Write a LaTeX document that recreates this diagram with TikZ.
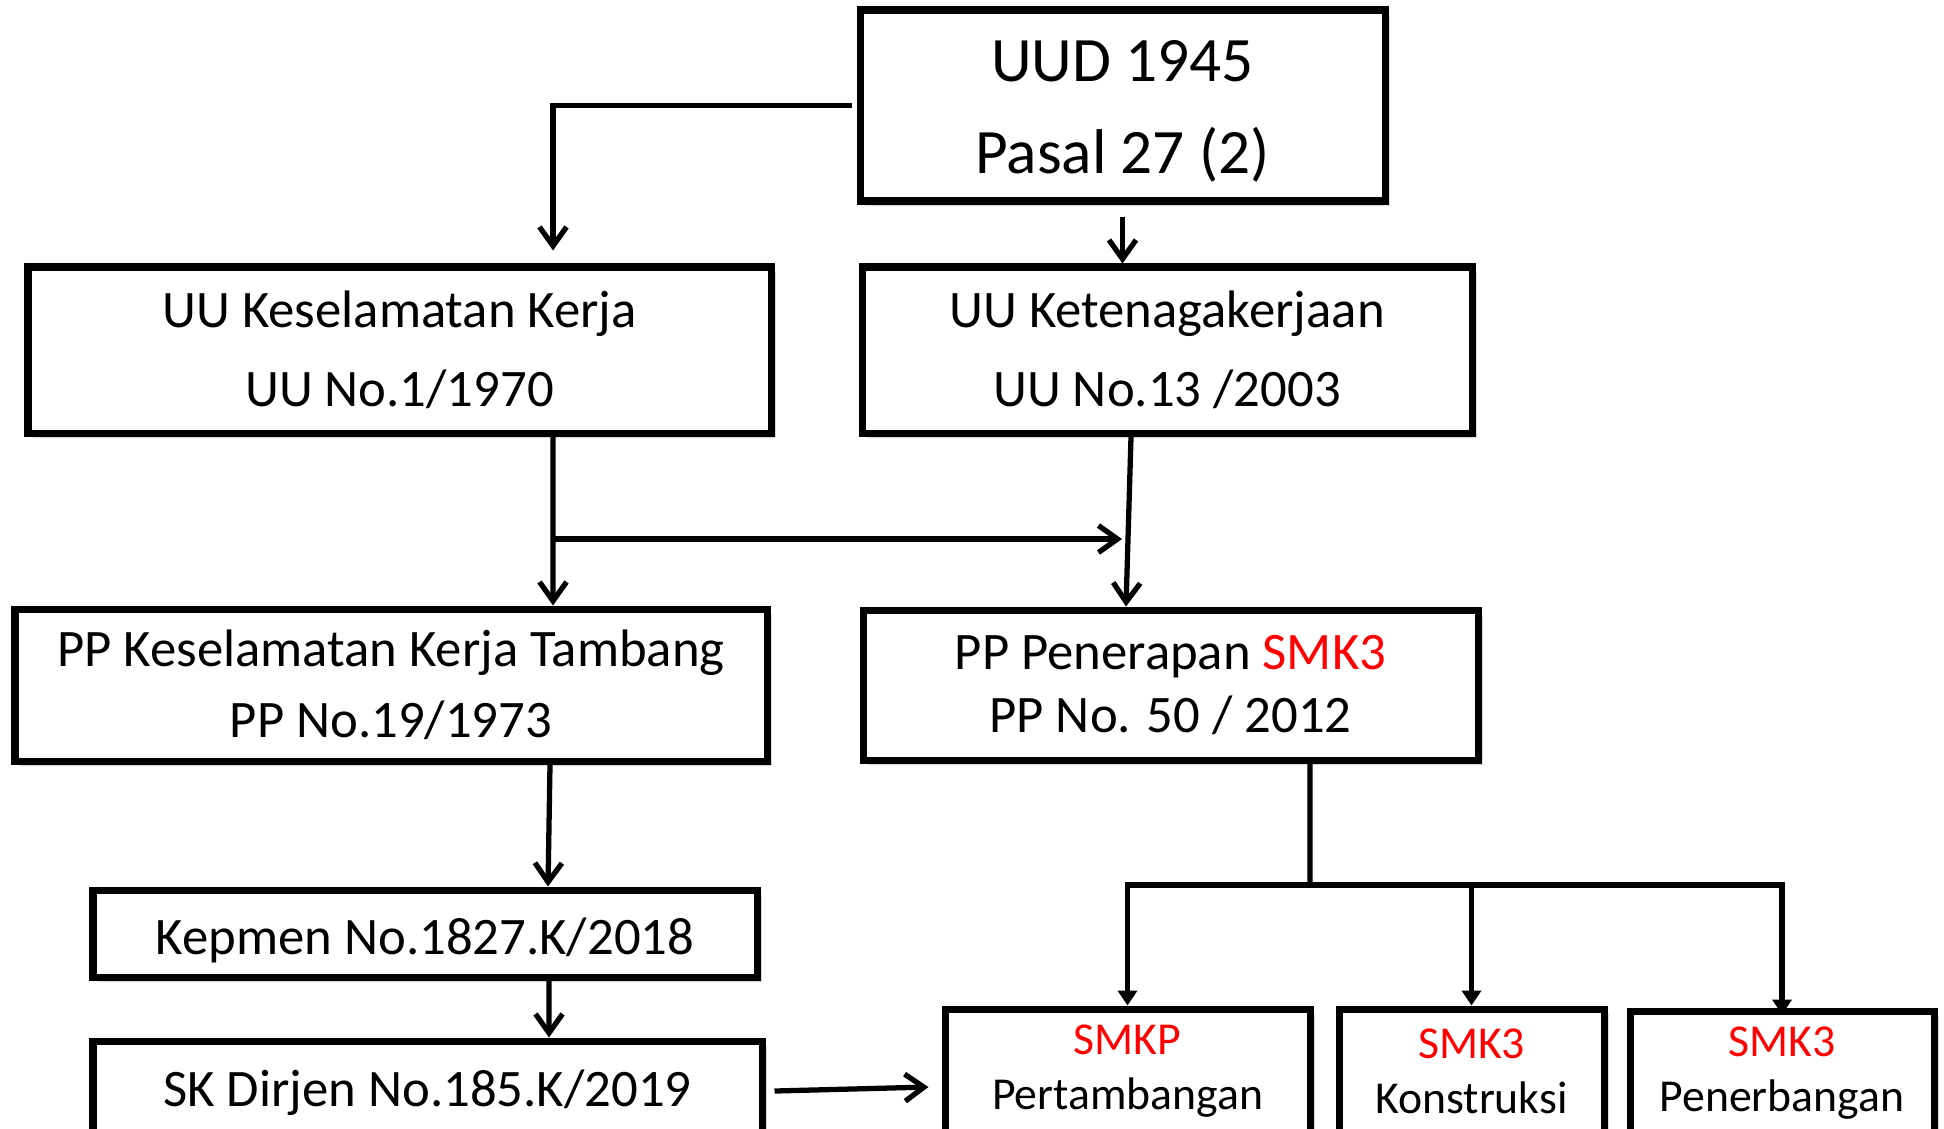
\documentclass[tikz,border=0pt]{standalone}
\usepackage{fontspec}
\setmainfont{Carlito}
\usetikzlibrary{shadows,arrows.meta}

\def\boxline{2pt}

\begin{document}
\begin{tikzpicture}[->,>={Straight Barb[length=0.19cm,width=0.27cm]},line width=1.5pt]
				\tikzstyle{law}=[draw,line width=\boxline,fill=white,align=center,inner sep=0pt,
				    drop shadow={shadow xshift=0.05cm,shadow yshift=-0.05cm,opacity=0.3}]
			    \tikzstyle{top law}=[law,font=\fontsize{18}{21.6}\selectfont]
			    \tikzstyle{mid law}=[law,font=\fontsize{15}{18}\selectfont]
			    \tikzstyle{sector}=[law,font=\fontsize{13}{15.6}\selectfont]
			    \tikzstyle{fork}=[-{Triangle[length=0.15cm,width=0.19cm]}]

			    \useasboundingbox (0,0) rectangle (19.44,-11.28);

			    % Constitution
			    \node[top law,minimum width=5.25cm,minimum height=1.91cm] (uud) at (11.225,-1.055) {\rule{0pt}{15pt}UUD 1945\\[0.16cm] Pasal 27 (2)};

			    % Acts
			    \node[mid law,minimum width=7.43cm,minimum height=1.66cm] (uuk) at (3.995,-3.50) {UU Keselamatan Kerja\\[0.16cm] UU No.1/1970};
			    \node[mid law,minimum width=6.10cm,minimum height=1.66cm] (uut) at (11.67,-3.50) {UU Ketenagakerjaan\\[0.16cm] UU No.13 /2003};

			    % Government regulations
			    \node[mid law,minimum width=7.52cm,minimum height=1.52cm] (ppk) at (3.91,-6.85) {PP Keselamatan Kerja Tambang\\[0.08cm] PP No.19/1973};
			    \node[mid law,minimum width=6.15cm,minimum height=1.50cm] (ppp) at (11.705,-6.85) {PP Penerapan \textcolor{red}{SMK3}\\ PP No. 50 / 2012};

			    % Ministerial decrees
			    \node[mid law,minimum width=6.64cm,minimum height=0.87cm,text height=12pt,text depth=0pt] (kep) at (4.25,-9.335) {Kepmen No.1827.K/2018};
			    \node[mid law,minimum width=6.69cm,minimum height=0.92cm,text height=11pt,text depth=0pt] (skd) at (4.275,-10.87) {SK Dirjen No.185.K/2019};

			    % Sector systems
			    \node[sector,minimum width=3.65cm,minimum height=1.24cm] (smkp) at (11.275,-10.71) {\textcolor{red}{SMKP}\\ Pertambangan};
			    \node[sector,minimum width=2.65cm,minimum height=1.24cm] (smkk) at (14.715,-10.71) {\textcolor{red}{SMK3}\\ Konstruksi};
			    \node[sector,minimum width=3.04cm,minimum height=1.24cm] (smkb) at (17.82,-10.73) {\textcolor{red}{SMK3}\\ Penerbangan};

			    \coordinate (j1) at (5.53,-5.39);
			    \coordinate (m1) at (11.22,-5.39);
			    \coordinate (br) at (13.10,-8.85);

			    % Connect the levels
			    \draw ([xshift=-0.05cm]uud.west) -| ([xshift=1.535cm,yshift=0.13cm]uuk.north);
			    \draw ([yshift=-0.12cm]uud.south) -- (uud.south |- uut.north);
			    \draw ([xshift=1.535cm]uuk.south) -- (j1 |- ppk.north);
			    \draw (j1) -- (m1);
			    \draw ([xshift=-0.36cm]uut.south) -- ([xshift=-0.445cm]ppp.north);
			    \draw ([xshift=1.59cm]ppk.south) -- ([xshift=1.23cm]kep.north);
			    \draw ([xshift=1.24cm]kep.south) -- ([xshift=1.215cm]skd.north);
			    \draw ([xshift=0.09cm,yshift=-0.04cm]skd.east) -- ([xshift=-0.13cm,yshift=-0.16cm]smkp.west);
			    \draw[-] ([xshift=1.395cm]ppp.south) -- (br);
			    \draw[fork] (br) -| (smkp.north);
			    \draw[fork] (br) -| (smkk.north);
			    \draw[fork] (br) -| ([yshift=-0.07cm]smkb.north);

			\end{tikzpicture}
\end{document}
